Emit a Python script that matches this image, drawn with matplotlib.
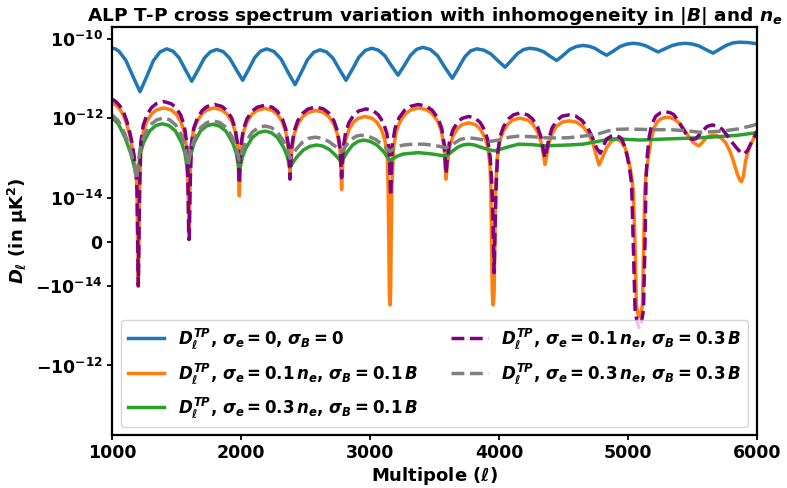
import matplotlib
matplotlib.use("Agg")
import matplotlib.pyplot as plt
from matplotlib.ticker import NullLocator

# ---------------- data (multipole, D_ell) ----------------
blue_pts = [(1000, 5.7e-11), (1025, 5.5e-11), (1054, 4.8e-11), (1108, 2.8e-11), (1163, 1.11e-11), (1217, 4.6e-12),
            (1269, 1.1e-11), (1320, 2.74e-11), (1372, 4.6e-11), (1424, 5.5e-11), (1473, 4.8e-11), (1521, 3.25e-11),
            (1570, 1.62e-11), (1618, 8.4e-12), (1666, 1.6e-11), (1715, 3.2e-11), (1763, 4.65e-11), (1811, 5.3e-11),
            (1862, 4.7e-11), (1912, 3.2e-11), (1963, 1.66e-11), (2013, 8.9e-12), (2060, 1.69e-11), (2106, 3.3e-11),
            (2153, 4.85e-11), (2199, 5.5e-11), (2254, 4.75e-11), (2309, 3.1e-11), (2364, 1.43e-11), (2419, 6.9e-12),
            (2467, 1.4e-11), (2516, 2.95e-11), (2564, 4.5e-11), (2612, 5.2e-11), (2663, 4.6e-11), (2713, 3.2e-11),
            (2764, 1.65e-11), (2814, 8.9e-12), (2864, 1.7e-11), (2914, 3.4e-11), (2963, 5.0e-11), (3013, 5.7e-11),
            (3064, 5.1e-11), (3115, 3.7e-11), (3166, 2.07e-11), (3217, 1.2e-11), (3266, 2.1e-11), (3314, 3.8e-11),
            (3363, 5.4e-11), (3411, 6.0e-11), (3468, 5.3e-11), (3525, 3.65e-11), (3581, 1.87e-11), (3638, 1.0e-11),
            (3685, 1.8e-11), (3733, 3.4e-11), (3780, 4.9e-11), (3827, 5.5e-11), (3882, 5.1e-11), (3937, 4.1e-11),
            (3992, 2.76e-11), (4047, 1.9e-11), (4095, 2.8e-11), (4144, 4.2e-11), (4192, 5.3e-11), (4240, 5.7e-11),
            (4292, 5.4e-11), (4344, 4.7e-11), (4395, 3.6e-11), (4447, 2.8e-11), (4498, 3.8e-11), (4549, 5.3e-11),
            (4600, 6.3e-11), (4651, 6.7e-11), (4697, 6.4e-11), (4743, 5.7e-11), (4788, 4.6e-11), (4834, 3.8e-11),
            (4885, 4.8e-11), (4937, 6.25e-11), (4988, 7.2e-11), (5039, 7.6e-11), (5088, 7.3e-11), (5136, 6.6e-11),
            (5185, 5.5e-11), (5233, 4.6e-11), (5285, 5.5e-11), (5338, 6.6e-11), (5390, 7.3e-11), (5442, 7.6e-11),
            (5496, 7.3e-11), (5551, 6.5e-11), (5605, 5.25e-11), (5659, 4.3e-11), (5711, 5.4e-11), (5764, 6.8e-11),
            (5816, 7.8e-11), (5868, 8.1e-11), (5934, 7.9e-11), (6000, 7.4e-11)]

orange_pts = [(1000, 2.4e-12), (1030, 2.1e-12), (1062, 1.65e-12), (1090, 1.15e-12), (1114, 7.0e-13), (1135, 4.0e-13),
              (1152, 2.2e-13), (1170, 1.0e-13), (1186, 4.0e-14), (1194, 1.5e-14), (1199, 0), (1204, -1.0e-14),
              (1209, 0), (1214, 1.5e-14),
              (1223, 1.7e-13), (1242, 4.5e-13), (1269, 8.2e-13), (1307, 1.27e-12), (1344, 1.6e-12), (1401, 1.8e-12),
              (1458, 1.6e-12), (1496, 1.27e-12), (1533, 8.2e-13), (1560, 4.5e-13), (1579, 1.7e-13), (1590, 1.5e-14),
              (1597, 2e-15), (1604, 1.5e-14),
              (1612, 1.7e-13), (1630, 4.5e-13), (1658, 8.2e-13), (1697, 1.27e-12), (1736, 1.6e-12), (1792, 1.8e-12),
              (1851, 1.6e-12), (1890, 1.27e-12), (1929, 8.2e-13), (1956, 4.5e-13), (1976, 1.7e-13), (1987, 1.1e-14),
              (1999, 1.65e-13), (2018, 4.4e-13), (2046, 7.9e-13), (2085, 1.24e-12), (2125, 1.56e-12), (2184, 1.75e-12),
              (2242, 1.56e-12), (2282, 1.24e-12), (2321, 7.9e-13), (2348, 4.4e-13), (2368, 1.65e-13), (2380, 3.9e-14),
              (2392, 1.46e-13), (2412, 3.9e-13), (2440, 7.0e-13), (2480, 1.1e-12), (2520, 1.38e-12), (2580, 1.55e-12),
              (2640, 1.38e-12), (2680, 1.1e-12), (2720, 7.0e-13), (2748, 3.9e-13), (2768, 1.46e-13), (2780, 1.6e-14),
              (2791, 1.03e-13), (2809, 2.7e-13), (2835, 5.0e-13), (2871, 7.8e-13), (2908, 9.8e-13), (2962, 1.1e-12),
              (3017, 9.8e-13), (3054, 7.8e-13), (3090, 5.0e-13), (3116, 2.7e-13), (3134, 1.03e-13), (3141, 1.5e-14),
              (3146, 0), (3150, -1.5e-14), (3155, -3.0e-14), (3160, -1.5e-14), (3164, 0), (3169, 1.5e-14),
              (3182, 1.7e-13), (3203, 4.5e-13), (3232, 8.2e-13), (3274, 1.27e-12), (3316, 1.6e-12), (3379, 1.8e-12),
              (3442, 1.6e-12), (3484, 1.27e-12), (3526, 8.2e-13), (3555, 4.5e-13), (3576, 1.7e-13), (3589, 2.9e-14),
              (3600, 7.1e-14), (3617, 1.9e-13), (3642, 3.45e-13), (3677, 5.4e-13), (3712, 6.8e-13), (3765, 7.6e-13),
              (3817, 6.8e-13), (3852, 5.4e-13), (3887, 3.45e-13), (3912, 1.9e-13), (3930, 7.1e-14), (3937, 1.5e-14),
              (3942, 0), (3948, -1.5e-14), (3955, -3.0e-14), (3962, -1.5e-14), (3968, 0), (3973, 1.5e-14),
              (3985, 9.4e-14), (4004, 2.5e-13), (4031, 4.5e-13), (4069, 7.1e-13), (4107, 8.9e-13), (4160, 1.0e-12),
              (4223, 8.9e-13), (4261, 7.1e-13), (4299, 4.5e-13), (4326, 2.5e-13), (4345, 1.1e-13), (4357, 6.8e-14),
              (4369, 1.1e-13), (4385, 2.2e-13), (4410, 4.0e-13), (4445, 6.2e-13), (4490, 7.9e-13), (4545, 8.5e-13),
              (4600, 7.9e-13), (4650, 6.2e-13), (4695, 4.0e-13), (4730, 2.2e-13), (4755, 1.1e-13), (4775, 6.6e-14),
              (4795, 9e-14), (4835, 1.8e-13), (4875, 2.7e-13), (4912, 3.0e-13), (4950, 2.5e-13), (4977, 1.8e-13),
              (5000, 1.0e-13), (5016, 5.8e-14), (5030, 3.0e-14), (5041, 1.5e-14), (5054, 0), (5065, -3e-14),
              (5077, -5e-14), (5088, -6e-14), (5100, -5e-14), (5112, -3e-14), (5122, 0), (5130, 1.5e-14),
              (5140, 4e-14), (5150, 7e-14), (5163, 1.3e-13), (5180, 3.0e-13), (5202, 5.7e-13), (5230, 8.2e-13),
              (5253, 9.5e-13), (5290, 1.04e-12), (5318, 1.05e-12), (5355, 9.5e-13), (5395, 7.6e-13), (5430, 5.5e-13),
              (5460, 3.9e-13), (5490, 2.8e-13), (5515, 2.3e-13), (5550, 2.0e-13), (5580, 2.5e-13), (5610, 3.3e-13),
              (5645, 3.6e-13), (5680, 3.7e-13), (5720, 3.2e-13), (5757, 2.4e-13), (5785, 1.6e-13), (5809, 1.0e-13),
              (5830, 6e-14), (5848, 3.9e-14), (5865, 2.8e-14), (5880, 2.5e-14), (5895, 3.5e-14), (5912, 8.5e-14),
              (5930, 1.4e-13), (5951, 2.2e-13), (5975, 3.1e-13), (6000, 4.0e-13)]

green_pts = [(1000, 1.05e-12), (1050, 7.0e-13), (1100, 3.3e-13), (1145, 1.3e-13), (1172, 6.0e-14), (1195, 3.0e-14),
             (1219, 1.27e-13), (1244, 2.4e-13), (1293, 4.8e-13), (1341, 6.5e-13), (1390, 7.2e-13), (1440, 6.5e-13),
             (1490, 4.8e-13), (1540, 2.4e-13), (1565, 1.33e-13), (1590, 3.8e-14), (1614, 1.3e-13), (1637, 2.4e-13),
             (1685, 4.7e-13), (1732, 6.3e-13), (1780, 7.0e-13), (1832, 6.3e-13), (1883, 4.7e-13), (1935, 2.4e-13),
             (1961, 1.4e-13), (1987, 4.7e-14), (2012, 1.06e-13), (2037, 1.73e-13), (2087, 3.2e-13), (2136, 4.3e-13),
             (2186, 4.7e-13), (2234, 4.3e-13), (2283, 3.25e-13), (2331, 1.8e-13), (2356, 1.15e-13), (2380, 5.8e-14),
             (2406, 7.9e-14), (2432, 1.04e-13), (2483, 1.57e-13), (2535, 1.95e-13), (2587, 2.1e-13), (2635, 1.97e-13),
             (2684, 1.63e-13), (2732, 1.17e-13), (2756, 9.6e-14), (2780, 7.7e-14), (2801, 1.05e-13), (2822, 1.38e-13),
             (2865, 2.1e-13), (2908, 2.6e-13), (2950, 2.8e-13), (3001, 2.6e-13), (3053, 2.1e-13), (3104, 1.44e-13),
             (3130, 1.12e-13), (3155, 8.5e-14), (3210, 1.1e-13), (3260, 1.25e-13), (3375, 1.35e-13), (3480, 1.25e-13),
             (3589, 1.1e-13), (3630, 1.4e-13), (3680, 1.85e-13), (3720, 2.1e-13), (3762, 2.2e-13), (3810, 2.1e-13),
             (3860, 1.85e-13), (3920, 1.6e-13), (3970, 1.5e-13), (4050, 1.8e-13), (4150, 2.2e-13), (4250, 2.15e-13),
             (4357, 2.0e-13), (4450, 2.05e-13), (4537, 2.1e-13), (4650, 2.2e-13), (4770, 2.6e-13), (4850, 2.9e-13),
             (4912, 3.0e-13), (5000, 2.9e-13), (5100, 2.8e-13), (5200, 2.9e-13), (5326, 3.0e-13), (5450, 3.1e-13),
             (5558, 3.2e-13), (5700, 3.4e-13), (5850, 3.7e-13), (6000, 4.3e-13)]

purple_pts = [(1000, 3.0e-12), (1030, 2.6e-12), (1062, 2.0e-12), (1090, 1.4e-12), (1114, 8.5e-13), (1135, 4.8e-13),
              (1152, 2.7e-13), (1170, 1.2e-13), (1186, 4.5e-14), (1194, 1.5e-14), (1199, 0), (1204, -1.0e-14),
              (1209, 0), (1214, 1.5e-14),
              (1223, 2.4e-13), (1242, 6.5e-13), (1269, 1.18e-12), (1307, 1.84e-12), (1344, 2.3e-12), (1401, 2.6e-12),
              (1458, 2.3e-12), (1496, 1.84e-12), (1533, 1.18e-12), (1560, 6.5e-13), (1579, 2.4e-13), (1590, 1.5e-14),
              (1594, 2e-15), (1597, 5e-16), (1600, 2e-15), (1605, 1.5e-14),
              (1615, 2.1e-13), (1633, 5.5e-13), (1662, 1.0e-12), (1700, 1.56e-12), (1738, 1.96e-12), (1795, 2.2e-12),
              (1852, 1.96e-12), (1890, 1.56e-12), (1928, 1.0e-12), (1955, 5.5e-13), (1974, 2.1e-13), (1987, 2.2e-14),
              (1999, 2.0e-13), (2018, 5.2e-13), (2046, 9.5e-13), (2085, 1.48e-12), (2125, 1.87e-12), (2184, 2.1e-12),
              (2242, 1.87e-12), (2282, 1.48e-12), (2321, 9.5e-13), (2348, 5.2e-13), (2368, 2.0e-13), (2380, 2.9e-14),
              (2392, 1.8e-13), (2412, 4.7e-13), (2440, 8.6e-13), (2480, 1.34e-12), (2520, 1.69e-12), (2580, 1.9e-12),
              (2640, 1.69e-12), (2680, 1.34e-12), (2720, 8.6e-13), (2748, 4.7e-13), (2768, 1.8e-13), (2780, 3.2e-14),
              (2791, 1.6e-13), (2810, 4.2e-13), (2837, 7.7e-13), (2875, 1.2e-12), (2913, 1.51e-12), (2970, 1.7e-12),
              (3027, 1.51e-12), (3065, 1.2e-12), (3103, 7.7e-13), (3130, 4.2e-13), (3149, 1.6e-13), (3160, 1.1e-14),
              (3173, 2.1e-13), (3194, 5.5e-13), (3224, 1.0e-12), (3267, 1.56e-12), (3310, 1.96e-12), (3375, 2.2e-12),
              (3440, 1.96e-12), (3483, 1.56e-12), (3526, 1.0e-12), (3556, 5.5e-13), (3576, 2.1e-13), (3589, 3.9e-14),
              (3600, 1.0e-13), (3617, 2.7e-13), (3642, 5.0e-13), (3678, 7.8e-13), (3713, 9.8e-13), (3765, 1.1e-12),
              (3818, 9.8e-13), (3853, 7.8e-13), (3889, 5.0e-13), (3914, 2.7e-13), (3932, 1.0e-13), (3945, 2e-14),
              (3953, 5e-15), (3957, 0), (3962, -7e-15), (3967, 0), (3971, 5e-15), (3978, 2e-14),
              (3990, 1.3e-13), (4008, 3.4e-13), (4035, 6.1e-13), (4073, 9.5e-13), (4111, 1.2e-12), (4165, 1.35e-12),
              (4222, 1.2e-12), (4260, 9.5e-13), (4298, 6.1e-13), (4325, 3.4e-13), (4345, 1.5e-13), (4357, 1.0e-13),
              (4369, 1.5e-13), (4385, 2.9e-13), (4410, 5.5e-13), (4445, 8.6e-13), (4490, 1.12e-12), (4540, 1.2e-12),
              (4595, 1.12e-12), (4645, 8.6e-13), (4690, 5.5e-13), (4725, 3.2e-13), (4755, 1.8e-13), (4785, 1.3e-13),
              (4810, 2.0e-13), (4835, 3.0e-13), (4870, 3.5e-13), (4900, 3.7e-13), (4930, 3.4e-13), (4951, 3.0e-13),
              (4970, 2.1e-13), (4990, 1.25e-13), (5010, 6e-14), (5028, 2.2e-14), (5040, 0), (5055, -4e-14),
              (5070, -8e-14), (5088, -1.2e-13), (5105, -8e-14), (5120, -4e-14), (5132, 0), (5140, 3e-14),
              (5150, 1.2e-13), (5165, 3.5e-13), (5185, 7.0e-13), (5214, 1.1e-12), (5250, 1.35e-12), (5292, 1.45e-12),
              (5330, 1.35e-12), (5357, 1.2e-12), (5390, 8.5e-13), (5421, 5.7e-13), (5450, 4.0e-13), (5473, 3.2e-13),
              (5500, 2.9e-13), (5525, 3.0e-13), (5550, 3.7e-13), (5576, 4.7e-13), (5615, 6.2e-13), (5654, 6.7e-13),
              (5695, 6.2e-13), (5731, 5.2e-13), (5770, 3.6e-13), (5809, 2.4e-13), (5840, 1.8e-13), (5870, 1.4e-13),
              (5900, 1.25e-13), (5925, 1.5e-13), (5950, 2.2e-13), (5975, 3.2e-13), (6000, 4.7e-13)]

gray_pts = [(1000, 1.2e-12), (1050, 8.5e-13), (1100, 4.0e-13), (1145, 1.5e-13), (1170, 7.0e-14), (1190, 2.8e-14),
            (1216, 1.6e-13), (1242, 3.2e-13), (1294, 6.6e-13), (1346, 9.0e-13), (1398, 1.0e-12), (1446, 9.1e-13),
            (1494, 6.7e-13), (1542, 3.5e-13), (1566, 1.9e-13), (1590, 6.3e-14), (1614, 1.7e-13), (1639, 3.0e-13),
            (1688, 5.8e-13), (1736, 7.7e-13), (1785, 8.5e-13), (1836, 7.7e-13), (1886, 5.8e-13), (1937, 3.1e-13),
            (1962, 1.9e-13), (1987, 8.5e-14), (2012, 1.6e-13), (2037, 2.5e-13), (2087, 4.4e-13), (2136, 5.8e-13),
            (2186, 6.3e-13), (2234, 5.8e-13), (2283, 4.4e-13), (2331, 2.6e-13), (2356, 1.7e-13), (2380, 9.7e-14),
            (2429, 1.67e-13), (2478, 2.5e-13), (2526, 3.1e-13), (2575, 3.3e-13), (2626, 3.1e-13), (2678, 2.6e-13),
            (2729, 1.97e-13), (2780, 1.4e-13), (2818, 2.1e-13), (2855, 2.9e-13), (2893, 3.5e-13), (2930, 3.7e-13),
            (2986, 3.5e-13), (3043, 2.9e-13), (3099, 2.1e-13), (3155, 1.45e-13), (3210, 1.9e-13), (3260, 2.1e-13),
            (3330, 2.2e-13), (3420, 2.2e-13), (3500, 2.05e-13), (3589, 1.8e-13), (3650, 2.3e-13), (3700, 2.9e-13),
            (3762, 3.2e-13), (3820, 3.05e-13), (3880, 2.8e-13), (3935, 2.6e-13), (4000, 2.8e-13), (4080, 3.3e-13),
            (4150, 3.5e-13), (4250, 3.4e-13), (4357, 3.2e-13), (4450, 3.15e-13), (4537, 3.2e-13), (4650, 3.5e-13),
            (4770, 4.0e-13), (4850, 4.8e-13), (4912, 5.2e-13), (5000, 5.3e-13), (5100, 5.2e-13), (5200, 5.1e-13),
            (5326, 5.1e-13), (5450, 4.8e-13), (5558, 4.4e-13), (5650, 4.5e-13), (5750, 4.8e-13), (5850, 5.3e-13),
            (5950, 6.3e-13), (6000, 7.0e-13)]

labels = [r"$D_\ell^{TP}$, $\sigma_e = 0$, $\sigma_B = 0$",
          r"$D_\ell^{TP}$, $\sigma_e = 0.1\,n_e$, $\sigma_B = 0.1\,B$",
          r"$D_\ell^{TP}$, $\sigma_e = 0.3\,n_e$, $\sigma_B = 0.1\,B$",
          r"$D_\ell^{TP}$, $\sigma_e = 0.1\,n_e$, $\sigma_B = 0.3\,B$",
          r"$D_\ell^{TP}$, $\sigma_e = 0.3\,n_e$, $\sigma_B = 0.3\,B$"]

x_ticks = [1000, 2000, 3000, 4000, 5000, 6000]
y_ticks = [-1e-12, -1e-14, 0, 1e-14, 1e-12, 1e-10]

# ---------------- style ----------------
plt.rcParams.update({
    "font.family": "DejaVu Sans",
    "font.weight": "bold",
    "axes.labelweight": "bold",
    "axes.titleweight": "bold",
    "mathtext.fontset": "custom",
    "mathtext.rm": "DejaVu Sans:bold",
    "mathtext.it": "DejaVu Sans:italic:bold",
    "mathtext.bf": "DejaVu Sans:bold",
    "mathtext.sf": "DejaVu Sans:bold",
})

fig = plt.figure(figsize=(7.87, 4.88), dpi=100)
ax = fig.add_axes([112 / 787, 1 - 435 / 488, (757 - 112) / 787, (435 - 27) / 488])

series = [(blue_pts, "#1f77b4", "-"), (orange_pts, "#ff7f0e", "-"), (green_pts, "#2ca02c", "-"),
          (purple_pts, "purple", "--"), (gray_pts, "gray", "--")]
for (pts, color, ls), lab in zip(series, labels):
    xs = [p[0] for p in pts]
    ys = [p[1] for p in pts]
    ax.plot(xs, ys, color=color, ls=ls, lw=2.5, label=lab)

ax.set_yscale("symlog", linthresh=1e-14)
ax.set_xlim(1000, 6000)
ax.set_ylim(-5.6e-11, 1.95e-10)
ax.set_yticks(y_ticks)
ax.set_xticks(x_ticks)
ax.yaxis.set_minor_locator(NullLocator())
ax.xaxis.set_minor_locator(NullLocator())
ax.tick_params(axis="both", labelsize=12.5, width=1.3, length=3.5, pad=3)
for s in ax.spines.values():
    s.set_linewidth(1.6)

ax.set_xlabel(r"Multipole ($\ell$)", fontsize=13, labelpad=2)
ax.set_ylabel(r"$D_\ell$ (in μK$^2$)", fontsize=13, labelpad=4)
ax.set_title(r"ALP T-P cross spectrum variation with inhomogeneity in $|B|$ and $n_e$", fontsize=13.3, pad=4)

ax.legend(loc="lower center", ncol=2, fontsize=12, handlelength=2.2, columnspacing=2.0, labelspacing=0.6)

fig.savefig("out.png", dpi=100)
